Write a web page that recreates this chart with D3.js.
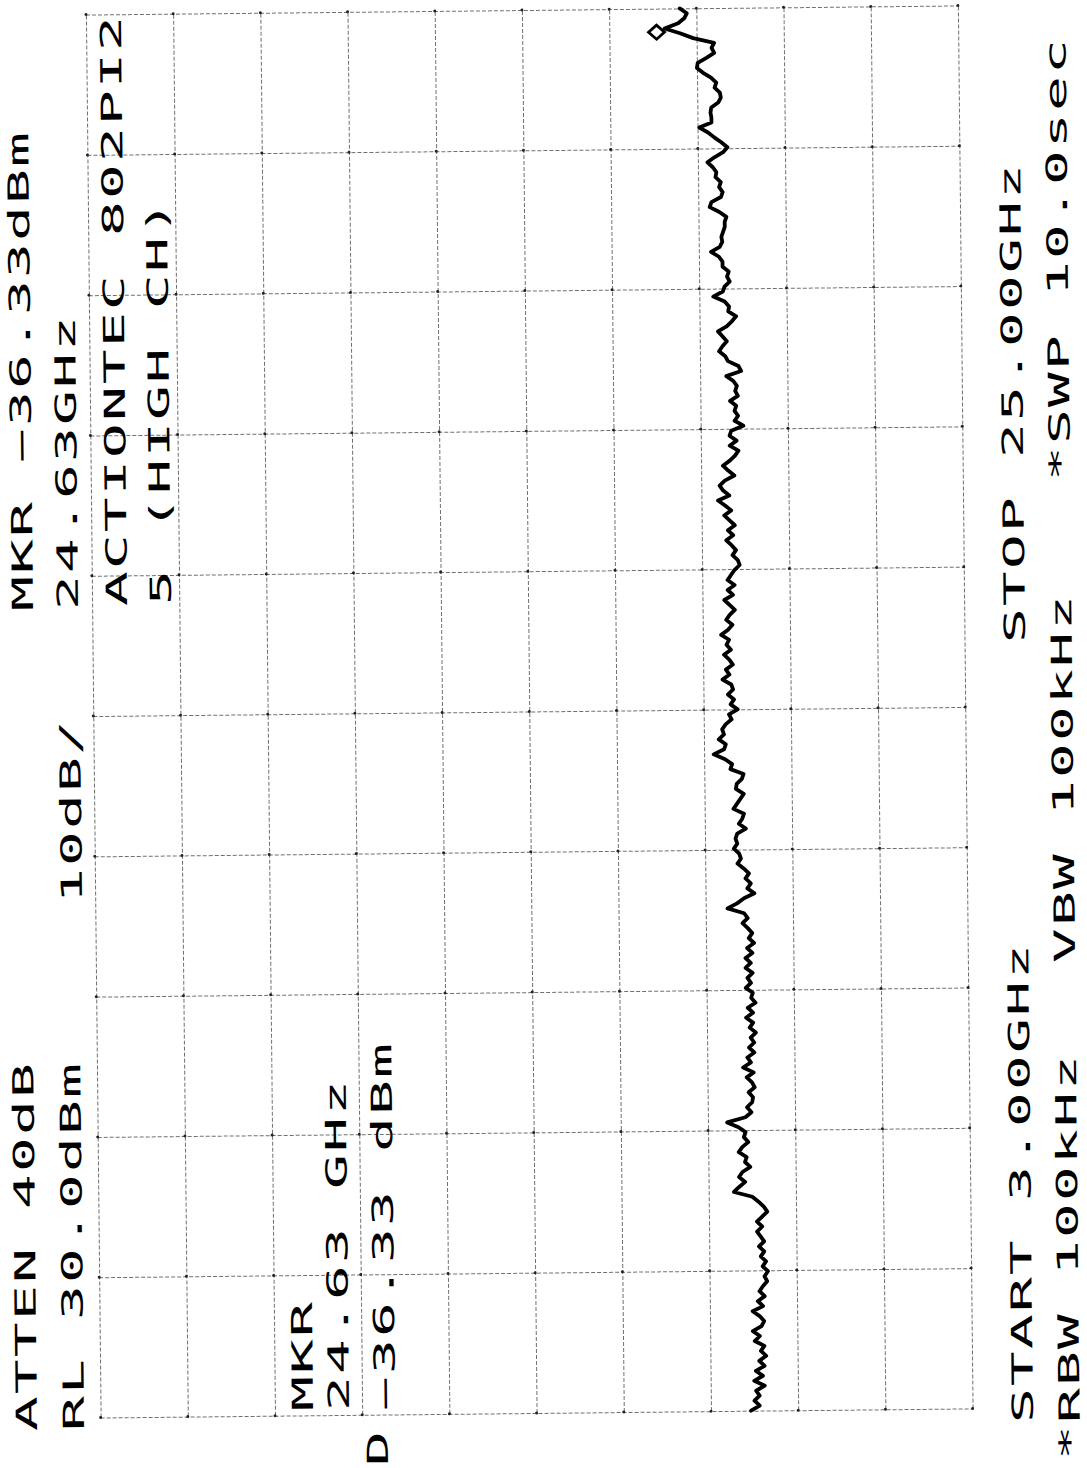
<!DOCTYPE html>
<html>
<head>
<meta charset="utf-8">
<script src="https://cdn.jsdelivr.net/npm/d3@7"></script>
<style>
  html, body { margin: 0; padding: 0; background: #fff; }
  svg { display: block; }
</style>
</head>
<body>
<svg id="chart" width="1087" height="1468"></svg>
<script>
// Spectrum analyzer plot: 3.00 - 25.00 GHz sweep, RL 30 dBm, 10 dB/div
const startGHz = 3.0;
const stopGHz = 25.0;
const levelTicks = [30, 20, 10, 0, -10, -20, -30, -40, -50, -60, -70];
const freqTicks = [3.0, 5.2, 7.4, 9.6, 11.8, 14.0, 16.2, 18.4, 20.6, 22.8, 25.0];

// Trace level in dBm, sweep points from START to STOP
const traceDbm = [
  -44.6, -45.6, -45.0, -45.6, -45.2, -46.2, -45.0, -46.0, -45.2, -46.2,
  -45.6, -46.4, -45.8, -46.2, -45.1, -45.7, -44.9, -45.9, -46.2, -45.7,
  -44.9, -46.1, -45.5, -46.3, -45.7, -46.1, -46.6, -46.3, -46.7, -46.1,
  -46.5, -45.9, -46.3, -45.7, -46.3, -45.9, -45.5, -46.1, -45.5, -46.1,
  -46.7, -46.3, -45.7, -45.0, -42.9, -43.5, -44.2, -43.5, -43.9, -44.8,
  -44.2, -44.4, -43.5, -43.9, -44.6, -44.1, -44.3, -43.5, -42.2, -44.3,
  -45.0, -44.5, -45.1, -45.2, -44.7, -45.4, -45.1, -44.5, -45.3,
  -44.1, -45.0, -44.6, -45.4, -44.8, -45.4, -45.0, -45.6, -44.9, -45.3,
  -44.5, -45.3, -44.7, -45.6, -45.1, -45.3, -44.5, -45.1, -44.7, -45.3,
  -44.5, -45.1, -44.5, -45.3, -44.7, -45.5, -44.9, -45.3, -44.8, -44.2,
  -44.8, -44.4, -42.5, -43.6, -44.4, -45.6, -44.8, -45.2, -44.6, -45.0,
  -44.4, -43.7, -44.1, -43.9, -43.3, -43.7, -43.5, -43.7, -44.7, -43.9,
  -44.3, -44.5, -43.3, -43.7, -44.1, -44.5, -43.6, -43.7, -44.3, -44.5,
  -43.0, -43.2, -42.4, -41.1, -42.3, -42.5, -41.7, -42.3, -42.1, -42.5,
  -43.2, -42.9,
  -43.9, -43.1, -43.5, -42.8, -43.4, -43.2, -42.2, -43.0, -42.6, -43.4,
  -43.0, -42.4, -43.2, -42.7, -43.0, -42.1, -42.9, -43.4, -42.7, -43.1,
  -43.7, -43.1, -42.5, -43.5, -42.9, -43.7, -42.9, -43.3, -43.7, -44.3,
  -44.1, -43.5, -43.9, -43.4, -42.8, -43.6, -43.0, -43.8, -43.2, -42.6,
  -43.4, -42.7, -41.9, -43.2, -42.5, -42.1, -42.7, -43.8, -43.1, -42.5,
  -43.3, -43.9, -44.3, -43.3, -44.1, -43.3, -43.5, -44.9, -43.9, -44.3,
  -43.9, -44.1, -43.4, -44.3, -44.0, -44.2, -43.8, -43.0, -44.7, -44.4,
  -43.2,
  -42.9, -42.2, -42.6, -43.1, -42.6, -42.1, -43.1, -43.7, -44.2, -43.3,
  -43.4, -42.9, -41.6, -42.7, -42.9, -43.5, -43.2, -43.4, -42.7, -42.7,
  -42.3, -41.4, -42.4, -42.7, -42.6, -42.8, -43.0, -43.0, -43.2, -42.4,
  -41.3, -41.5, -42.6, -42.8, -42.4, -42.6, -42.0, -42.1, -41.7, -41.1,
  -41.9, -42.9, -43.4, -42.7, -41.9, -41.2, -40.2, -41.6, -41.6, -41.5,
  -41.6, -42.4, -42.7, -42.6, -42.0, -42.2, -41.6, -40.7, -40.0, -40.1,
  -41.1, -42.0, -41.7, -42.0, -39.6, -38.1, -36.33, -37.9, -38.6, -38.9,
  -38.1
];

const markerGHz = 24.63;
const markerDbm = -36.33;

// Annotation strings printed by the plotter
const headerLines = [
  "ATTEN 40dB", "RL 30.0dBm", "10dB/", "MKR \u221236.33dBm", "24.63GHz",
  "ACTIONTEC 802PI2", "5 (HIGH CH)"
];
const markerLines = ["MKR", "24.63 GHz", "\u221236.33 dBm", "D"];
const footerLines = ["START 3.00GHz", "*RBW 100kHz", "VBW 100kHz", "STOP 25.00GHz", "*SWP 10.0sec"];

// ---------------------------------------------------------------
const svg = d3.select("#chart");
const tilt = -0.6;                 // the paper sits slightly skewed
const frame = { left: 93.25, right: 965.25, top: 10, bottom: 1413 };
const cx = (frame.left + frame.right) / 2;
const cy = (frame.top + frame.bottom) / 2;

// amplitude runs across the page (reference level on the left), frequency runs up the page
const x = d3.scaleLinear().domain([30, -70]).range([frame.left, frame.right]);
const y = d3.scaleLinear().domain([startGHz, stopGHz]).range([frame.bottom, frame.top]);
const idx = d3.scaleLinear().domain([0, traceDbm.length - 1]).range([startGHz, stopGHz]);

const plot = svg.append("g").attr("transform", `rotate(${tilt},${cx},${cy})`);

const gridStyle = sel => sel.selectAll("line")
  .attr("stroke", "#707070").attr("stroke-width", 1).attr("stroke-dasharray", "4 2");

plot.append("g")
  .attr("transform", `translate(0,${frame.bottom})`)
  .call(d3.axisBottom(x).tickValues(levelTicks).tickSize(-(frame.bottom - frame.top)).tickFormat(""))
  .call(g => g.select(".domain").remove())
  .call(gridStyle);

plot.append("g")
  .attr("transform", `translate(${frame.left},0)`)
  .call(d3.axisLeft(y).tickValues(freqTicks).tickSize(-(frame.right - frame.left)).tickFormat(""))
  .call(g => g.select(".domain").remove())
  .call(gridStyle);

// small pen dots at the graticule crossings
const crossings = [];
levelTicks.forEach(l => freqTicks.forEach(f => crossings.push([l, f])));
plot.append("g").selectAll("circle").data(crossings).join("circle")
  .attr("cx", d => x(d[0])).attr("cy", d => y(d[1]))
  .attr("r", 1.5).attr("fill", "#222");

// trace
const line = d3.line()
  .x(d => x(d))
  .y((d, i) => y(idx(i)));

plot.append("path")
  .datum(traceDbm)
  .attr("d", line)
  .attr("fill", "none")
  .attr("stroke", "#000")
  .attr("stroke-width", 3.8)
  .attr("stroke-linejoin", "round")
  .attr("stroke-linecap", "round");

// marker diamond, drawn with its right tip on the marker reading
const mx = x(markerDbm), my = y(markerGHz);
plot.append("path")
  .attr("d", `M${mx},${my} L${mx - 8},${my - 7} L${mx - 16},${my} L${mx - 8},${my + 7} Z`)
  .attr("fill", "none").attr("stroke", "#000").attr("stroke-width", 2.8)
  .attr("stroke-linejoin", "miter");

// ---------------------------------------------------------------
// plotter lettering, reading up the page, one character per fixed cell
const pitch = 37, stretch = 2.0, cellHalf = 14.5;
const textPlacement = [
  { t: headerLines[0], bx: 37,  y0: 1428 },
  { t: headerLines[1], bx: 84,  y0: 1428 },
  { t: headerLines[2], bx: 82,  y0: 900 },
  { t: headerLines[3], bx: 33,  y0: 608 },
  { t: headerLines[4], bx: 78,  y0: 607 },
  { t: headerLines[5], bx: 127, y0: 603 },
  { t: headerLines[6], bx: 171, y0: 602 },
  { t: markerLines[0], bx: 313, y0: 1408 },
  { t: markerLines[1], bx: 349, y0: 1408 },
  { t: markerLines[2], bx: 395, y0: 1408 },
  { t: markerLines[3], bx: 388, y0: 1463 },
  { t: footerLines[0], bx: 1033, y0: 1420 },
  { t: footerLines[1], bx: 1080, y0: 1457 },
  { t: footerLines[2], bx: 1075, y0: 960 },
  { t: footerLines[3], bx: 1025, y0: 640 },
  { t: footerLines[4], bx: 1070, y0: 478 }
];

svg.append("g").selectAll("text").data(textPlacement).join("text")
  .attr("transform", d => `translate(${d.bx},${d.y0}) rotate(${-90 + tilt}) scale(${stretch},1)`)
  .attr("x", d => Array.from(d.t, (c, i) => ((cellHalf + i * pitch) / stretch).toFixed(2)).join(" "))
  .attr("y", 0)
  .attr("text-anchor", "middle")
  .attr("font-family", "'DejaVu Sans Mono', monospace")
  .attr("font-size", 29)
  .attr("fill", "#000")
  .text(d => d.t);
</script>
</body>
</html>
